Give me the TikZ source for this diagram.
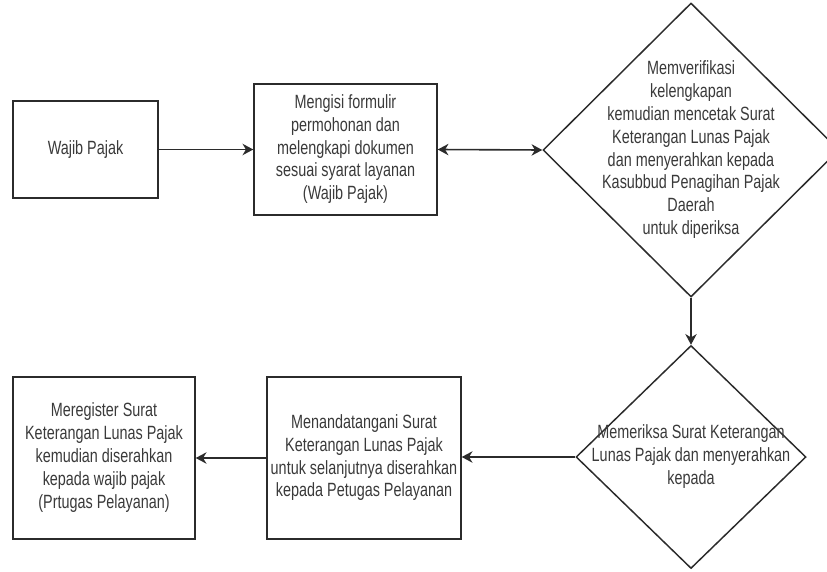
\documentclass[tikz,border=0pt]{standalone}
\usepackage{fontspec}
\setmainfont{Liberation Sans}
\usepackage{graphicx}
\usetikzlibrary{shapes.geometric,arrows.meta}
\definecolor{ink}{HTML}{2B2B2B}
\definecolor{txt}{HTML}{3A3A3A}
\newcommand{\lbl}[1]{\scalebox{1}[1.33]{\fontsize{10.8}{12.9}\selectfont\begin{tabular}{@{}c@{}}#1\end{tabular}}}
\tikzset{
  tip/.tip={Stealth[length=8pt,width=8.5pt,inset=2.5pt]},
  box/.style={draw=ink, line width=1.1pt, rectangle, inner sep=0pt, text=txt},
  dia/.style={draw=ink, line width=1.1pt, diamond, inner sep=0pt},
  lab/.style={inner sep=0pt, text=txt},
  arr/.style={draw=ink, line width=1.2pt, -tip},
  darr/.style={draw=ink, line width=1.2pt, tip-tip}
}
\begin{document}
\begin{tikzpicture}[x=0.75pt,y=-0.75pt]
\clip (0,0) rectangle (827,571);
\useasboundingbox (0,0) rectangle (827,571);
\fill[white] (0,0) rectangle (827,571);
% boxes
\node[box, minimum width=108.75pt, minimum height=72.75pt] (b1) at (85.5,149.5) {\lbl{Wajib Pajak}};
\node[box, minimum width=137.25pt, minimum height=98.25pt] (b2) at (345.5,149.5) {\lbl{Mengisi formulir\\permohonan dan\\melengkapi dokumen\\sesuai syarat layanan\\(Wajib Pajak)}};
\node[dia, minimum width=222pt, minimum height=220.5pt] (d1) at (691,150) {};
\node[lab] (t1) at (d1.center) {\lbl{Memverifikasi\\kelengkapan\\kemudian mencetak Surat\\Keterangan Lunas Pajak\\dan menyerahkan kepada\\Kasubbud Penagihan Pajak\\Daerah\\untuk diperiksa}};
\node[dia, minimum width=172.5pt, minimum height=167.25pt] (d2) at (691,457) {};
\node[lab] (t2) at (d2.center) {\lbl{Memeriksa Surat Keterangan\\Lunas Pajak dan menyerahkan\\kepada}};
\node[box, minimum width=145.5pt, minimum height=121.5pt] (b3) at (364,458) {\lbl{Menandatangani Surat\\Keterangan Lunas Pajak\\untuk selanjutnya diserahkan\\kepada Petugas Pelayanan}};
\node[box, minimum width=136.5pt, minimum height=121.5pt] (b4) at (104,458) {\lbl{Meregister Surat\\Keterangan Lunas Pajak\\kemudian diserahkan\\kepada wajib pajak\\(Prtugas Pelayanan)}};
% connectors
\draw[arr] (b1.east) -- (b2.east -| b2.west);
\draw[darr] (b2.east) -- (d1.west);
\draw[arr] (d1.south) -- (d2.north);
\draw[arr] (d2.west) -- (d2.west -| b3.east);
\draw[arr] (b3.west) -- (b3.west -| b4.east);
\end{tikzpicture}
\end{document}
